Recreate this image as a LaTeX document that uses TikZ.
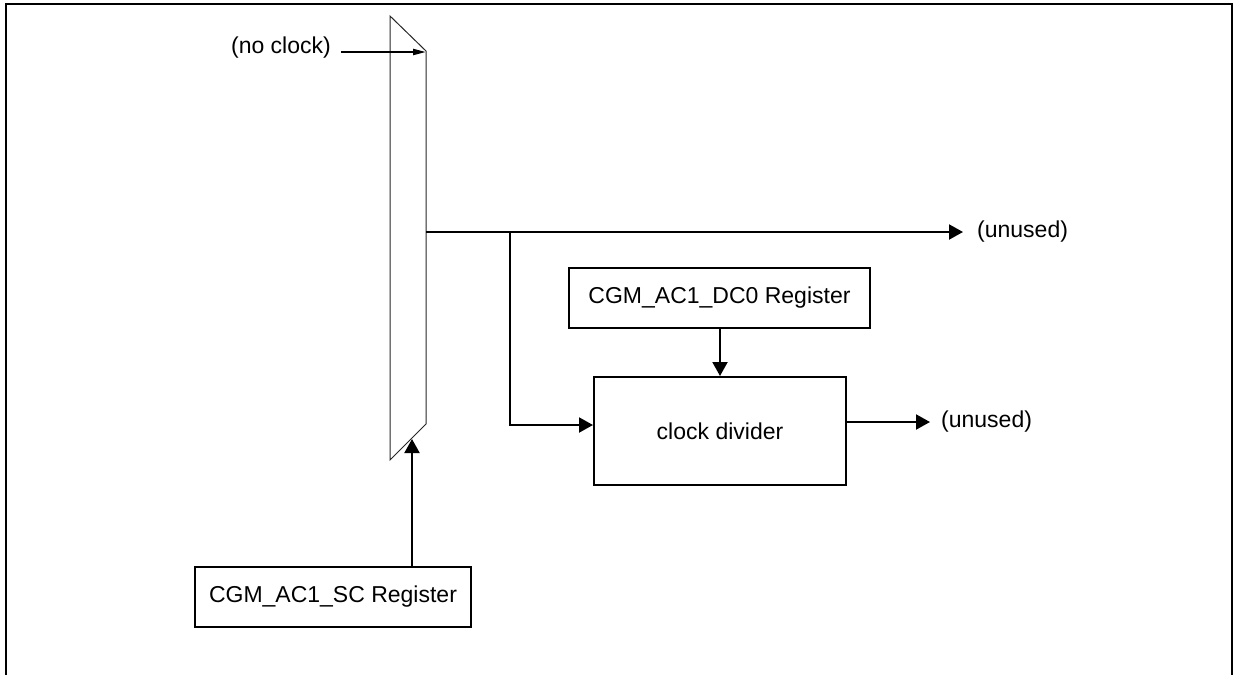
\documentclass[tikz,border=0pt]{standalone}
\usepackage{fontspec}
\setmainfont{Liberation Sans}
\usetikzlibrary{positioning, arrows.meta}

\tikzset{
    regbox/.style={draw, line width=2pt, inner sep=0pt},
    wire/.style={line width=2pt},
    sig/.style={wire, -{Triangle[length=14pt,width=15pt]}},
    lbl/.style={inner sep=0pt, font=\fontsize{23pt}{27pt}\selectfont}
}

\begin{document}
\begin{tikzpicture}[x=1pt, y=-1pt]
        \useasboundingbox (0,0) rectangle (1233,675);

        % frame, open at the bottom
        \draw[line width=2pt] (6,675) -- (6,4) -- (1232,4) -- (1232,675);

        % multiplexer
        \draw[line width=1pt, draw=black!85] (390,16) -- (426,51) -- (426,424) -- (390,460) -- cycle;
        \coordinate (muxin)  at (426,52);
        \coordinate (muxout) at (426,232);
        \coordinate (muxsel) at (412,439);
        \coordinate (tap)    at (510,232);

        \node[lbl, anchor=east] (nocl) at (331,48) {(no clock)};
        \coordinate (nocla) at ([xshift=10pt]nocl.east |- muxin);
        \draw[wire, -{Triangle[length=13pt,width=6pt]}] (nocla) -- (muxin);

        % registers and divider
        \node[regbox, minimum width=301pt, minimum height=60pt, lbl] (dc0) at (719.5,298) {CGM\_AC1\_DC0 Register};
        \node[regbox, minimum width=252pt, minimum height=108pt, lbl] (div) at (720,431) {clock divider};
        \node[regbox, minimum width=276pt, minimum height=60pt, lbl] (sc) at (333,597) {CGM\_AC1\_SC Register};

        \node[lbl, anchor=west] (un1) at (977,232) {(unused)};
        \node[lbl, anchor=west] (un2) at (941,422) {(unused)};

        \draw[sig] (muxout) -- ([xshift=-14pt]un1.west);
        \draw[sig] (tap) |- ([yshift=6pt]div.west);
        \draw[sig] (dc0.south -| div.north) -- (div.north);
        \draw[sig] ([yshift=9pt]div.east) -- ([xshift=-11pt]un2.west);
        \draw[sig] (sc.north -| muxsel) -- (muxsel);
    \end{tikzpicture}
\end{document}
